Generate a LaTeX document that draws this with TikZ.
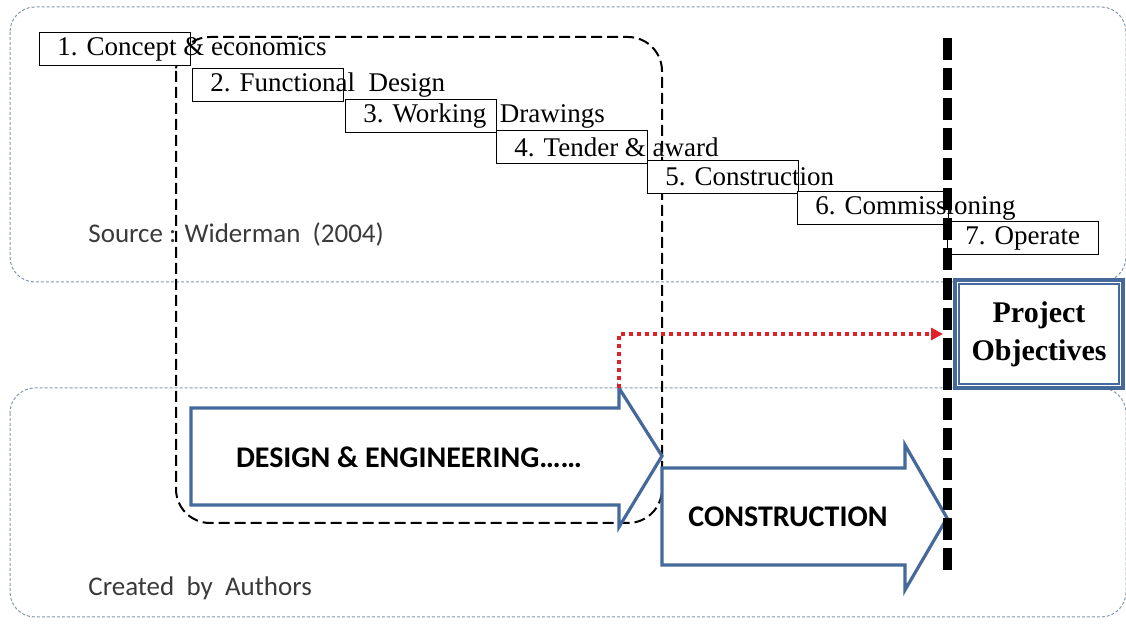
\documentclass[tikz,border=0pt]{standalone}
\usepackage{fontspec}
\setmainfont{Liberation Serif}
\newfontfamily\calibri{Carlito}
\usetikzlibrary{positioning,arrows.meta}

\definecolor{arrowblue}{HTML}{44699A}
\definecolor{panelgray}{HTML}{8497B0}
\definecolor{linkred}{HTML}{E0202A}
\definecolor{notegray}{HTML}{3A3A3A}

\tikzset{
  panel/.style={draw=panelgray, line width=0.5pt, dash pattern=on 1.5pt off 1pt, rounded corners=12.5pt},
  phasebox/.style={draw=black, line width=1pt, dash pattern=on 5.5pt off 2.5pt, rounded corners=17pt},
  stepbox/.style={draw=black, line width=0.6pt, fill=white, anchor=north west,
    minimum width=75.5pt, minimum height=16.5pt, inner sep=0pt},
  steptext/.style={anchor=west, xshift=9pt, inner sep=0pt, font=\fontsize{13.5}{16}\selectfont},
  bigarrow/.style={draw=arrowblue, line width=1.6pt, fill=white, line join=miter},
  bigtext/.style={inner sep=0pt, font=\calibri\bfseries\fontsize{15}{18}\selectfont},
  note/.style={anchor=west, inner sep=0pt, text=notegray, font=\calibri\fontsize{13.5}{16}\selectfont}
}

\begin{document}
\begin{tikzpicture}[x=0.5pt, y=-0.5pt]
  \useasboundingbox (0,0) rectangle (1126,624);

  % Background panels
  \draw[panel] (10,7) rectangle (1126,282);   % Widerman stages
  \draw[panel] (10,388) rectangle (1126,617); % authors' view

  % Dashed box round the design stages
  \draw[phasebox] (176,37) rectangle (662,523);

  % The seven stages
  \node[stepbox] (b1) at (39,32) {};
  \node[steptext] (t1) at (b1.west) {1. Concept \& economics};
  \node[stepbox] (b2) at (192,68) {};
  \node[steptext] (t2) at (b2.west) {2. Functional\ \ Design};
  \node[stepbox] (b3) at (345,99) {};
  \node[steptext] (t3) at (b3.west) {3. Working\ \ Drawings};
  \node[stepbox] (b4) at (496,130) {};
  \node[steptext] (t4) at (b4.west) {4. Tender \& award};
  \node[stepbox] (b5) at (647,160) {};
  \node[steptext] (t5) at (b5.west) {5. Construction};
  \node[stepbox] (b6) at (797,191) {};
  \node[steptext] (t6) at (b6.west) {6. Commissioning};
  \node[stepbox] (b7) at (947,221) {};
  \node[steptext] (t7) at (b7.west) {7. Operate};

  % Notes
  \node[note] (src) at (88,235) {Source : Widerman\ \ (2004)};
  \node[note] (auth) at (88,588) {Created\ \ by\ \ Authors};

  % Block arrows
  \draw[bigarrow] (191,408) -- (619,408) -- (619,388) -- (662,456) -- (619,527)
    -- (619,505) -- (191,505) -- cycle;
  \node[bigtext] (design) at (409,457) {DESIGN \& ENGINEERING……};
  \draw[bigarrow] (662,468) -- (905,468) -- (905,445) -- (947,518) -- (905,590)
    -- (905,565) -- (662,565) -- cycle;
  \node[bigtext] (constr) at (788,517) {CONSTRUCTION};

  % Project objectives
  \node[draw=arrowblue, line width=2pt, fill=white, minimum width=84pt, minimum height=54pt,
    inner sep=0pt, align=center, font=\bfseries\fontsize{15}{19}\selectfont] (obj) at (1039,334)
    {Project\\Objectives};
  \draw[arrowblue, line width=0.9pt] ([shift={(3pt,-3pt)}]obj.north west)
    rectangle ([shift={(-3pt,3pt)}]obj.south east);

  % Red link from the design arrow
  \coordinate (dtop) at (619,388);
  \draw[linkred, line width=2pt, dash pattern=on 2pt off 2pt, -{Triangle[length=6pt,width=6pt]}]
    (dtop) |- ([xshift=-5pt]obj.west);

  % Milestone line
  \coordinate (mtop) at (947,38);
  \coordinate (mbot) at (947,577);
  \draw[line width=4.5pt, dash pattern=on 11pt off 4pt] (mtop) -- (mbot);
\end{tikzpicture}
\end{document}
